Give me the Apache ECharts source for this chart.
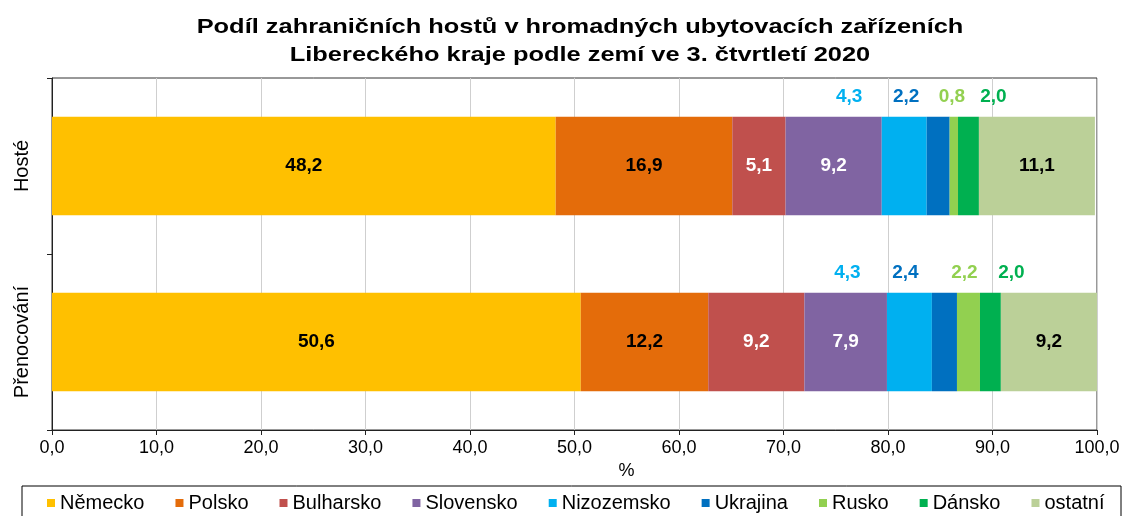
<!DOCTYPE html>
<html>
<head>
<meta charset="utf-8">
<script src="https://cdn.jsdelivr.net/npm/echarts@6/dist/echarts.min.js"></script>
<style>
  html, body { margin: 0; padding: 0; background: #fff; }
  #chart { width: 1124px; height: 516px; }
</style>
</head>
<body>
<div id="chart"></div>
<script>
"use strict";

var titleLines = ['Podíl zahraničních hostů v hromadných ubytovacích zařízeních', 'Libereckého kraje podle zemí ve 3. čtvrtletí 2020'];
var categories = ['Hosté', 'Přenocování'];
var countries = ['Německo', 'Polsko', 'Bulharsko', 'Slovensko', 'Nizozemsko', 'Ukrajina', 'Rusko', 'Dánsko', 'ostatní'];
var hoste = [48.2, 16.9, 5.1, 9.2, 4.3, 2.2, 0.8, 2.0, 11.1];
var prenocovani = [50.6, 12.2, 9.2, 7.9, 4.3, 2.4, 2.2, 2.0, 9.2];
var xTicks = [0, 10, 20, 30, 40, 50, 60, 70, 80, 90, 100];

var colors = ['#FFC000', '#E46C0A', '#C0504D', '#8064A2', '#00B0F0', '#0070C0', '#92D050', '#00B050', '#BBD098'];
// label colour inside the bar, or null = label above the bar in series colour
var insideColor = ['#000', '#000', '#fff', '#fff', null, null, null, null, '#000'];
// horizontal shift of the labels above the bar [Hosté, Přenocování]
var topShift = { 4: [-55, -62], 5: [-32, -39], 6: [-2, -4], 7: [25, 21] };

function fmt(v) {
  return v.toFixed(1).replace('.', ',');
}

var chart = echarts.init(document.getElementById('chart'));

var series = countries.map(function(name, i) {
  var vals = [hoste[i], prenocovani[i]];
  var inside = insideColor[i] !== null;
  return {
    name: name,
    type: 'bar',
    stack: 'total',
    barWidth: '56%',
    itemStyle: { color: colors[i] },
    label: {
      show: true,
      position: inside ? 'inside' : 'top',
      distance: 10,
      color: inside ? insideColor[i] : colors[i],
      fontFamily: 'Liberation Sans',
      fontWeight: 'bold',
      fontSize: 19,
      formatter: function(p) { return fmt(p.value); }
    },
    emphasis: { disabled: true },
    data: vals.map(function(v, k) {
      if (inside) return v;
      return { value: v, label: { offset: [topShift[i][k], 0] } };
    })
  };
});

// title drawn as text a little wider than the plain font
var titleGraphic = titleLines.map(function(t, k) {
  return {
    type: 'text',
    x: 580,
    y: 27 + k * 28,
    scaleX: 1.21,
    style: {
      text: t,
      align: 'center',
      verticalAlign: 'middle',
      fontFamily: 'Liberation Sans',
      fontSize: 21,
      fontWeight: 'bold',
      fill: '#000'
    }
  };
});

var option = {
  animation: false,
  textStyle: { fontFamily: 'Liberation Sans' },
  legend: {
    data: countries,
    left: 47,
    top: 493,
    padding: 0,
    itemWidth: 8,
    itemHeight: 8,
    itemGap: 31,
    icon: 'rect',
    selectedMode: false,
    textStyle: { fontFamily: 'Liberation Sans', fontSize: 20, color: '#000' }
  },
  graphic: titleGraphic.concat([{
    type: 'rect',
    shape: { x: 22, y: 486, width: 1099, height: 60 },
    style: { fill: 'none', stroke: '#000', lineWidth: 1 }
  }]),
  grid: {
    left: 52,
    right: 27,
    top: 78,
    bottom: 86,
    show: true,
    borderColor: '#333',
    borderWidth: 1
  },
  xAxis: {
    type: 'value',
    min: xTicks[0],
    max: xTicks[xTicks.length - 1],
    interval: 10,
    name: '%',
    nameLocation: 'middle',
    nameGap: 29,
    nameTextStyle: { fontSize: 18, color: '#000', padding: [0, 0, 0, 104] },
    axisLine: { show: true, lineStyle: { color: '#222', width: 1 } },
    axisTick: { show: true, length: 5, lineStyle: { color: '#222' } },
    axisLabel: { fontSize: 18, color: '#000', margin: 9, formatter: function(v) { return fmt(v); } },
    splitLine: { show: true, lineStyle: { color: '#cfcfcf', width: 1 } }
  },
  yAxis: {
    type: 'category',
    data: categories,
    inverse: true,
    axisLine: { show: true, lineStyle: { color: '#222', width: 1 } },
    axisTick: { show: true, length: 5, lineStyle: { color: '#222' } },
    axisLabel: { rotate: 90, fontSize: 20, color: '#000', margin: 20 },
    splitLine: { show: false }
  },
  series: series
};

chart.setOption(option);
</script>
</body>
</html>
